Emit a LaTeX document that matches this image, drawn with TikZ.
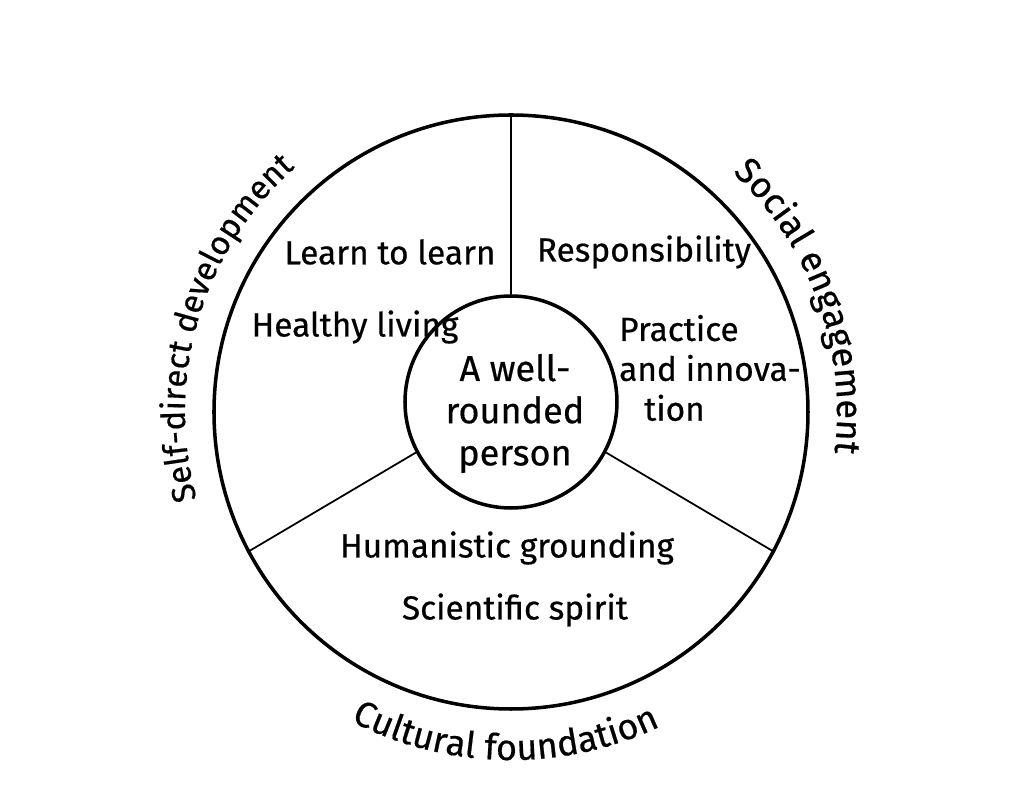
\documentclass[tikz,border=0pt]{standalone}
\usepackage{fontspec}
\setmainfont{Fira Sans}[FakeBold=0.5]
\usetikzlibrary{decorations.text}
\newcommand\ringfont{\fontsize{20.5}{24}\selectfont}
\newcommand\sideringfont{\fontsize{18.8}{22}\selectfont}
\begin{document}
\begin{tikzpicture}[facet/.style={align=center, font=\fontsize{19}{22.7}\selectfont},
  ring/.style={decorate, decoration={text along path, text align=center, text={#1}}}]
  % Frame
  \useasboundingbox (-10.22,-7.84) rectangle (10.26,8.24);
  % Circles
  \node (rim) [circle, draw, line width=2pt, minimum size=11.88cm] at (0,0) {};
  \node (core) [circle, draw, line width=2pt, minimum size=4.24cm] at (0,0.2) {};
  \node (whole) [facet, font=\fontsize{20.5}{24}\selectfont] at (0.08,-0.03) {A well-\\rounded\\person};
  % Spokes
  \draw[line width=1pt] (core.90) -- (rim.90);
  \draw[line width=1pt] (core.208) -- (rim.208);
  \draw[line width=1pt] (core.332) -- (rim.332);
  % Facets
  \node (learn) [facet] at (-2.42,3.2) {Learn to learn};
  \node (resp) [facet] at (2.66,3.2) {Responsibility};
  \node (health) [facet] at (-3.12,1.7) {Healthy living};
  \node (practice) [facet, align=left, anchor=west] at (2.04,0.88) {Practice\\and innova-\\\hspace*{0.5cm}tion};
  \node (human) [facet] at (-0.08,-2.72) {Humanistic grounding};
  \node (science) [facet] at (0.08,-3.96) {Scientific spirit};
  % Dimensions
  \path[ring={|\sideringfont|Self-direct development}] (205:6.52) arc[start angle=205, end angle=122, radius=6.52];
  \path[ring={|\ringfont|Social engagement}] (60:6.52) arc[start angle=60, end angle=-20, radius=6.52];
  \path[ring={|\ringfont|Cultural foundation}] (229:6.96) arc[start angle=229, end angle=309, radius=6.96];
\end{tikzpicture}
\end{document}
